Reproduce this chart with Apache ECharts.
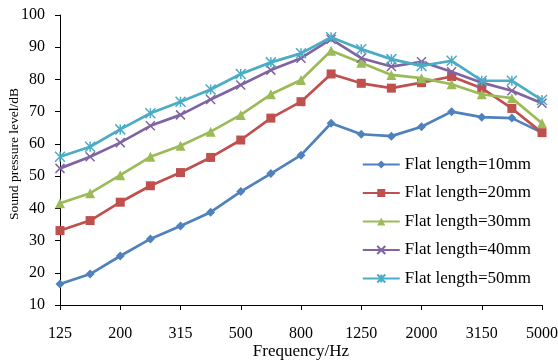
<!DOCTYPE html>
<html>
<head>
<meta charset="utf-8">
<script src="https://cdn.jsdelivr.net/npm/echarts@6/dist/echarts.min.js"></script>
<style>html,body{margin:0;padding:0;background:#fff}#c{width:558px;height:361px}</style>
</head>
<body>
<div id="c"></div>
<script>
const categories = ['125','160','200','250','315','400','500','630','800','1000','1250','1600','2000','2500','3150','4000','5000'];
const flat10 = [16.5,19.6,25.2,30.5,34.5,38.8,45.2,50.8,56.5,66.4,63.0,62.4,65.3,70.0,68.3,68.0,63.5];
const flat20 = [33.1,36.2,41.9,47.0,51.1,55.8,61.2,68.0,73.1,81.7,78.8,77.3,79.0,80.9,77.3,71.0,63.5];
const flat30 = [41.6,44.7,50.3,56.0,59.4,63.8,69.0,75.4,79.8,88.9,85.2,81.4,80.4,78.5,75.4,74.2,66.4];
const flat40 = [52.4,56.0,60.4,65.6,69.0,73.8,78.3,82.9,86.6,92.5,86.6,84.0,85.5,82.4,79.0,76.5,72.6];
const flat50 = [56.0,59.1,64.5,69.5,73.1,76.9,81.7,85.3,88.1,93.1,89.4,86.3,84.2,85.8,79.6,79.6,73.6];
const seriesNames = ['Flat length=10mm','Flat length=20mm','Flat length=30mm','Flat length=40mm','Flat length=50mm'];
const yTicks = {min:10, max:100, interval:10};

const colors = ['#4F81BD','#C0504D','#9BBB59','#8064A2','#4BACC6'];
const symbols = ['diamond','rect','triangle','path://M0,0 L10,10 M10,0 L0,10','path://M0,0 L10,10 M10,0 L0,10 M5,0 L5,10'];
const sizes = [9,9,10,9,10];
const datas = [flat10,flat20,flat30,flat40,flat50];
const font = 'Liberation Serif';

const chart = echarts.init(document.getElementById('c'));
chart.setOption({
  animation:false,
  textStyle:{fontFamily:font},
  grid:{left:60,right:16,top:15,bottom:56,containLabel:false,outerBoundsMode:'none'},
  legend:{
    orient:'vertical', right:22, top:151, itemGap:11.5, itemWidth:37, itemHeight:10,
    textStyle:{fontFamily:font,fontSize:17,color:'#000'},
    data:seriesNames
  },
  xAxis:{
    type:'category', data:categories, boundaryGap:false,
    name:'Frequency/Hz', nameLocation:'middle', nameGap:38, nameMoveOverlap:false,
    nameTextStyle:{fontFamily:font,fontSize:17,color:'#000'},
    axisLine:{lineStyle:{color:'#000',width:1}},
    axisTick:{interval:1,length:5,lineStyle:{color:'#000'}},
    axisLabel:{interval:1,fontFamily:font,fontSize:16,color:'#000',margin:21},
    splitLine:{show:false}
  },
  yAxis:{
    type:'value', min:yTicks.min, max:yTicks.max, interval:yTicks.interval,
    name:'Sound pressure level/dB', nameLocation:'middle', nameGap:39, nameMoveOverlap:false,
    nameTextStyle:{fontFamily:font,fontSize:13.5,color:'#000',padding:[0,0,0,12]},
    axisLine:{show:true,lineStyle:{color:'#000',width:1}},
    axisTick:{show:true,length:5,lineStyle:{color:'#000'}},
    axisLabel:{fontFamily:font,fontSize:16,color:'#000',margin:15},
    splitLine:{show:false}
  },
  series: seriesNames.map((n,i)=>({
    name:n, type:'line', data:datas[i],
    symbol:symbols[i], symbolSize:sizes[i], showSymbol:true,
    lineStyle:{color:colors[i],width:2.7},
    itemStyle:{color:colors[i], borderColor:colors[i], borderWidth:i>=3?1.5:0},
    z: 2+i
  }))
});
</script>
</body>
</html>
